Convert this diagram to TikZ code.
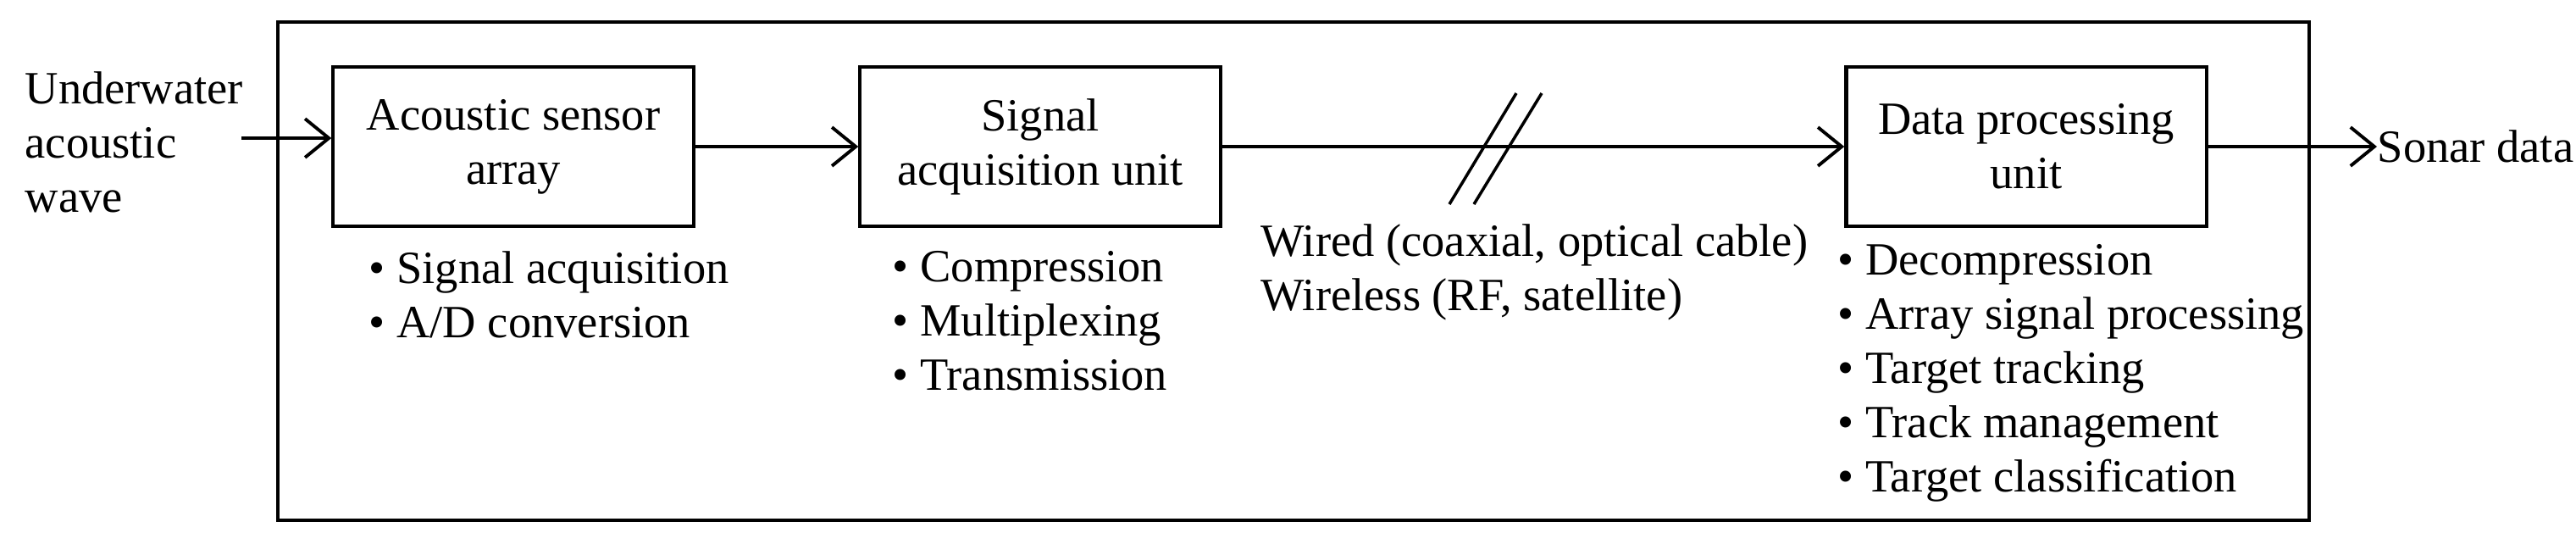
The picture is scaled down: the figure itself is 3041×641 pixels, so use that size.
\documentclass[tikz,border=0pt]{standalone}
\usepackage{fontspec}
\setmainfont{Liberation Serif}
\usetikzlibrary{arrows.meta}
\begin{document}
\begin{tikzpicture}[x=0.01cm,y=-0.01cm,
  every node/.style={font=\fontsize{15.5}{18.2}\selectfont,inner sep=0pt},
  blk/.style={draw,line width=1.2pt,minimum width=4.25cm,minimum height=1.88cm,align=center},
  conn/.style={line width=1.2pt,-{Straight Barb[length=8pt,width=13pt,line width=1.1pt]}},
  lst/.style={anchor=west,align=left}]
\useasboundingbox (0,0) rectangle (3041,641);
\draw[line width=1.1pt] (328,26) rectangle (2726,614);
\node[blk] (b1) at (606,173) {Acoustic sensor\\array};
\node[blk] (b2) at (1228,173) {Signal\\acquisition unit};
\node[blk] (b3) at (2392,173) {Data processing\\unit};
\node[anchor=west,align=left] (in) at (29,168) {Underwater\\acoustic\\wave};
\node[anchor=west] (out) at (2806,173) {Sonar data};
\coordinate (inS) at (285,163);
\draw[conn] (inS) -- (b1.west|-inS);
\draw[conn] (b1) -- (b2);
\draw[conn] (b2) -- (b3);
\draw[conn] (b3) -- (out);
\coordinate (s1a) at (1711,241); \coordinate (s1b) at (1790,110);
\coordinate (s2a) at (1740,241); \coordinate (s2b) at (1820,110);
\draw[line width=1pt] (s1a) -- (s1b) (s2a) -- (s2b);
\node[lst] (l1) at (435,348) {• Signal acquisition\\• A/D conversion};
\node[lst] (l2) at (1053,379) {• Compression\\• Multiplexing\\• Transmission};
\node[lst] (l4) at (1488,321) {Wired (coaxial, optical cable)\\Wireless (RF, satellite)};
\node[lst] (l3) at (2169,440) {• Decompression\\• Array signal processing\\• Target tracking\\• Track management\\• Target classification};
\end{tikzpicture}
\end{document}
